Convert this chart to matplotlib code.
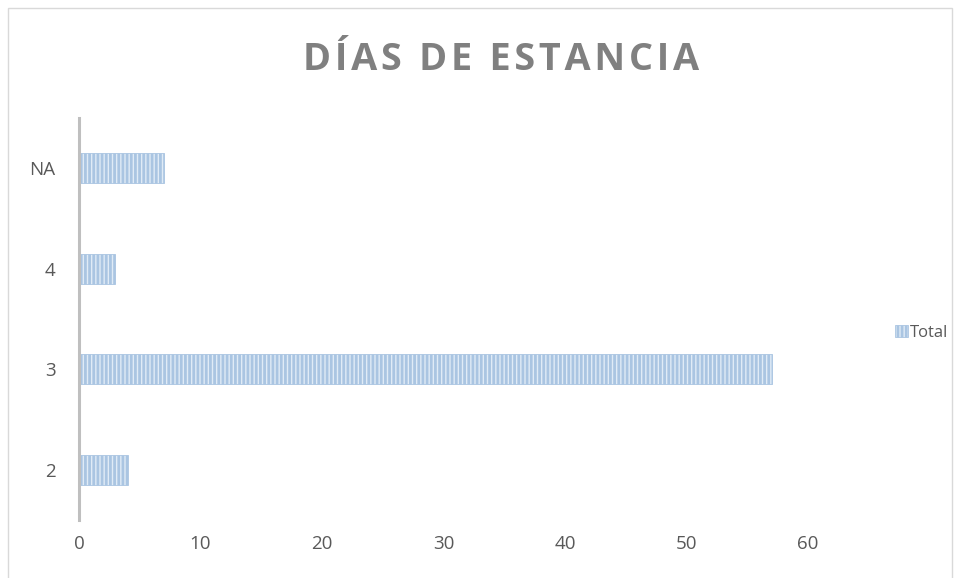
import matplotlib.pyplot as plt
from matplotlib.patches import Rectangle

categories = ['2', '3', '4', 'NA']
totals = [4, 57, 3, 7]
x_ticks = [0, 10, 20, 30, 40, 50, 60]

plt.rcParams['font.family'] = ['Open Sans', 'DejaVu Sans']
plt.rcParams['hatch.linewidth'] = 2.0
plt.rcParams['hatch.color'] = '#93b7db'

fig = plt.figure(figsize=(9.61, 5.78), dpi=100)
ax = fig.add_axes([79 / 961, 58 / 578, (808 - 79) / 961, (520 - 118) / 578])

ax.barh(range(len(categories)), totals, height=0.3, color='#e0ebf6',
        edgecolor='#aac5e2', linewidth=0.6, hatch='||||', label='Total')

ax.set_xlim(0, 60)
ax.set_ylim(-0.5, len(categories) - 0.5)
ax.set_yticks(range(len(categories)))
ax.set_yticklabels(categories)
ax.set_xticks(x_ticks)

for side in ['top', 'right', 'bottom']:
    ax.spines[side].set_visible(False)
ax.spines['left'].set_color('#bfbfbf')
ax.spines['left'].set_linewidth(2.2)
ax.tick_params(length=0, labelsize=13.5, labelcolor='#595959')
ax.tick_params(axis='x', pad=11)
ax.tick_params(axis='y', pad=17)

# letter-spaced title
hs = '\u200a'
title = (hs + ' ' + hs).join(hs.join(w) for w in ['DÍAS', 'DE', 'ESTANCIA'])
fig.text(0.521, 1 - 60 / 578, title, ha='center', va='center',
         fontsize=27.3, fontweight='bold', color='#808080')

fig.legend(loc='center left', bbox_to_anchor=(895 / 961, 1 - 333 / 578),
           frameon=False, fontsize=12, labelcolor='#595959',
           borderpad=0, borderaxespad=0,
           handlelength=0.75, handleheight=0.75, handletextpad=0.15)

# thin chart-area border
fig.patches.append(Rectangle((8 / 961, -0.01), (952 - 8) / 961, 1 - 8 / 578 + 0.01,
                             transform=fig.transFigure, fill=False,
                             edgecolor='#d9d9d9', linewidth=1))

fig.savefig('out.png', dpi=100)
